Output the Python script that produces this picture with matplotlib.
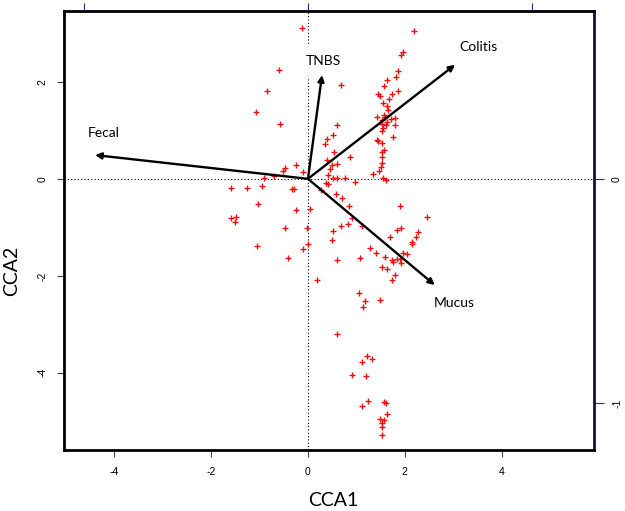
import numpy as np
import matplotlib
matplotlib.use("Agg")
import matplotlib.pyplot as plt

# site scores (CCA1, CCA2)
site_x = [-0.13, -0.60, -0.85, -1.08, -0.58, -0.48, -0.51, -0.25, -0.11, -0.70,
          -0.90, -1.59, -1.25, -0.94, -0.28, -0.33, -1.04, -0.25, 0.04, -1.59,
          -1.49, -1.50, -0.48, -0.01, -1.05, 0.01, -0.10, -0.41, 0.18,
          0.41, 0.26, 0.39, 0.40, 0.36,
          2.20, 1.96, 1.92, 1.87, 1.81, 1.64, 0.68, 1.58, 1.45, 1.49,
          1.73, 1.67, 1.87, 1.56, 1.64, 1.66, 1.57, 1.71, 1.42, 1.52,
          1.61, 1.80, 1.56, 1.52, 1.76, 1.42, 1.45, 1.54, 1.52, 1.57,
          1.52, 1.52, 1.34, 1.47, 1.56, 1.61, 0.59, 0.52, 0.54, 0.87,
          0.61, 0.49, 0.45, 0.42, 0.76, 0.51, 0.59, 0.97, 0.37,
          1.60, 1.64, 1.54, 1.80, 1.50,
          0.58, 0.70, 0.85, 0.92, 0.51, 0.49, 0.68, 0.83, 1.11, 1.90,
          2.45, 1.83, 1.92, 2.28, 2.23, 2.16, 2.14, 1.69, 1.28, 1.40,
          0.61, 1.07, 1.59, 1.73, 1.76, 1.83, 1.90, 1.96, 2.04, 1.92,
          1.54, 1.64, 1.80, 1.73, 1.06, 1.49, 1.18, 1.14, 0.61, 1.23,
          1.33, 1.11, 0.92, 1.20, 1.25, 1.11, 1.58, 1.61, 1.63, 1.49,
          1.58, 1.54, 1.54, 1.52]
site_y = [3.11, 2.25, 1.81, 1.37, 1.14, 0.22, 0.16, 0.29, 0.15, 0.05,
          0.01, -0.18, -0.18, -0.14, -0.21, -0.22, -0.52, -0.65, -0.62, -0.80,
          -0.78, -0.90, -1.02, -1.02, -1.38, -1.35, -1.45, -1.64, -2.08,
          -0.10, -0.24, 0.39, 0.83, 0.72,
          3.05, 2.61, 2.56, 2.23, 2.10, 2.03, 1.94, 1.92, 1.75, 1.70,
          1.75, 1.65, 1.81, 1.56, 1.51, 1.42, 1.32, 1.23, 1.28, 1.22,
          1.11, 1.11, 1.05, 0.98, 0.87, 0.80, 0.77, 0.74, 0.56, 0.60,
          0.46, 0.32, 0.10, 0.16, 0.01, -0.02, 1.11, 0.91, 0.56, 0.46,
          0.31, 0.29, 0.20, 0.08, 0.01, 0.01, 0.01, -0.06, -0.09,
          1.27, 1.18, 1.13, 1.25, 0.25,
          -0.32, -0.40, -0.57, -0.81, -1.07, -1.26, -0.98, -0.93, -0.98, -0.57,
          -0.79, -1.05, -1.02, -1.09, -1.20, -1.31, -1.35, -1.20, -1.43, -1.52,
          -1.68, -1.64, -1.61, -1.67, -1.71, -1.65, -1.66, -1.53, -1.55, -1.73,
          -1.81, -1.86, -1.98, -2.08, -2.36, -2.49, -2.51, -2.65, -3.20, -3.66,
          -3.72, -3.78, -4.04, -4.06, -4.57, -4.68, -4.61, -4.62, -4.85, -4.95,
          -4.98, -5.04, -5.12, -5.28]

# biplot arrows (environmental variables)
env_names = ['Fecal', 'TNBS', 'Colitis', 'Mucus']
env_x = [-0.952, 0.063, 0.658, 0.567]
env_y = [0.106, 0.463, 0.509, -0.474]
arrow_mul = 4.62

fig = plt.figure(figsize=(6.25, 5.11), dpi=100)
ax = fig.add_axes([0.1024, 0.1194, 0.848, 0.8591])
ax.set_xlim(-5.04, 5.91)
ax.set_ylim(-5.59, 3.46)

ax.axhline(0, color='black', lw=0.8, ls=(0, (1, 2)), zorder=1)
ax.axvline(0, color='black', lw=0.8, ls=(0, (1, 2)), zorder=1)

ax.plot(site_x, site_y, '+', color='#f01010', ms=3.8, mew=1.0, zorder=3)

lab_off = {'Fecal': (6, 16), 'TNBS': (1, 10), 'Colitis': (17, 13), 'Mucus': (14, -13)}
for name, ex, ey in zip(env_names, env_x, env_y):
    x1, y1 = ex * arrow_mul, ey * arrow_mul
    ax.annotate('', xy=(x1, y1), xytext=(0, 0),
                arrowprops=dict(arrowstyle='-|>', color='black', lw=1.7,
                                mutation_scale=9, shrinkA=0, shrinkB=0),
                zorder=5)
    bb = None
    if name == 'TNBS':
        bb = dict(facecolor='white', edgecolor='none', pad=7)
    ax.annotate(name, xy=(x1, y1), xytext=lab_off[name], textcoords='offset points',
                ha='center', va='center', fontsize=10, family=['Lato', 'DejaVu Sans'],
                bbox=bb, zorder=2)

ax.set_xticks([-4, -2, 0, 2, 4])
ax.set_yticks([-4, -2, 0, 2])
ax.set_xticklabels(['-4', '-2', '0', '2', '4'])
ax.set_yticklabels(['-4', '-2', '0', '2'], rotation=90, va='center')
ax.tick_params(axis='both', direction='out', length=5, width=0.8, color='#444444',
               labelsize=7.5, pad=7)
for lab in ax.get_xticklabels() + ax.get_yticklabels():
    lab.set_family(['Liberation Sans', 'DejaVu Sans'])

for side in ['left', 'bottom', 'top']:
    ax.spines[side].set_linewidth(2)
    ax.spines[side].set_color('black')
ax.spines['right'].set_linewidth(2)
ax.spines['right'].set_color('#14143a')

top = ax.secondary_xaxis('top', functions=(lambda v: v / arrow_mul, lambda v: v * arrow_mul))
top.set_xticks([-1, 0, 1])
top.tick_params(direction='out', length=6, width=0.8, color='#2828a8', labeltop=False)

right = ax.secondary_yaxis('right', functions=(lambda v: v / arrow_mul, lambda v: v * arrow_mul))
right.set_yticks([-1, 0])
right.set_yticklabels(['-1', '0'], rotation=90, va='center')
right.tick_params(direction='out', length=7, width=0.8, color='#2828a8', labelsize=7.5, pad=6)
for lab in right.get_yticklabels():
    lab.set_family(['Liberation Sans', 'DejaVu Sans'])

fig.text(0.533, 0.0215, 'CCA1', ha='center', va='center', fontsize=14,
         family=['Lato', 'DejaVu Sans'])
fig.text(0.019, 0.470, 'CCA2', ha='center', va='center', fontsize=14,
         rotation=90, family=['Lato', 'DejaVu Sans'])

fig.savefig('out.png', dpi=100)
